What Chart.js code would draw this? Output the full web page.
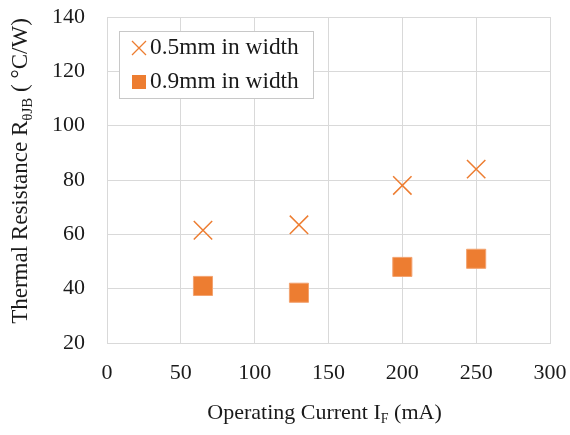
<!DOCTYPE html>
<html lang="en">
<head>
<meta charset="UTF-8" />
<title>Thermal resistance vs operating current</title>
<script src="https://cdn.jsdelivr.net/npm/chart.js@4.4.1/dist/chart.umd.min.js"></script>
<style>
  html, body { margin: 0; padding: 0; background: #fff; }
  #wrap { width: 570px; height: 435px; }
</style>
</head>
<body>
<div id="wrap"><canvas id="chart" width="570" height="435"></canvas></div>
<script>
// values
const currents = [65, 130, 200, 250]
const narrowValues = [61.5, 63.5, 78, 84]   // 0.5mm wide
const wideValues = [41, 38.5, 48, 51]       // 0.9mm wide
const seriesNames = ['0.5mm in width', '0.9mm in width']
const xRange = [0, 300]
const yRange = [20, 140]

const orange = '#ED7D31'
const serif = '"Liberation Serif", "Times New Roman", serif'
const gridMajor = '#d9d9d9'
const gridMinor = '#f0f0f0'

// draws text with subscript parts, centred on the origin
function richText(ctx, parts, size) {
  const subSize = Math.round(size * 0.65)
  let w = 0
  for (const p of parts) {
    ctx.font = `${p.sub ? subSize : size}px ${serif}`
    w += ctx.measureText(p.t).width
  }
  let x = -w / 2
  for (const p of parts) {
    ctx.font = `${p.sub ? subSize : size}px ${serif}`
    ctx.fillText(p.t, x, p.sub ? size * 0.3 : 0)
    x += ctx.measureText(p.t).width
  }
}

// scales add room for their end labels; the layout here is fixed instead
function noOverflow(s) {
  s.paddingTop = 0
  s.paddingBottom = 0
  s.paddingLeft = 0
  s.paddingRight = 0
}

const extras = {
  id: 'extras',
  afterDraw(chart) {
    const ctx = chart.ctx
    const area = chart.chartArea
    ctx.save()
    ctx.fillStyle = '#1a1a1a'
    ctx.textBaseline = 'middle'
    ctx.textAlign = 'left'

    // x axis title
    ctx.save()
    ctx.translate((area.left + area.right) / 2 - 4, 413)
    richText(ctx, [{ t: 'Operating Current I' }, { t: 'F', sub: true }, { t: ' (mA)' }], 22)
    ctx.restore()

    // y axis title
    ctx.save()
    ctx.translate(21, 171)
    ctx.rotate(-Math.PI / 2)
    richText(ctx, [{ t: 'Thermal Resistance R' }, { t: '\u03b8JB', sub: true }, { t: ' ( \u00b0C/W)' }], 23)
    ctx.restore()

    // legend box inside the plot
    ctx.fillStyle = '#fff'
    ctx.strokeStyle = '#c8c8c8'
    ctx.lineWidth = 1
    ctx.fillRect(119.5, 31.5, 194, 67)
    ctx.strokeRect(119.5, 31.5, 194, 67)

    ctx.strokeStyle = orange
    ctx.lineWidth = 1.3
    ctx.beginPath()
    ctx.moveTo(132, 41); ctx.lineTo(146, 55)
    ctx.moveTo(146, 41); ctx.lineTo(132, 55)
    ctx.stroke()
    ctx.fillStyle = orange
    ctx.fillRect(132, 75, 14, 14)

    ctx.fillStyle = '#1a1a1a'
    ctx.font = `23.4px ${serif}`
    ctx.fillText(seriesNames[0], 150, 48)
    ctx.fillText(seriesNames[1], 150, 82)
    ctx.restore()
  },
}

new Chart(document.getElementById('chart'), {
  type: 'scatter',
  data: {
    datasets: [
      {
        label: seriesNames[0],
        data: currents.map((x, i) => ({ x, y: narrowValues[i] })),
        pointStyle: 'crossRot',
        pointRadius: 13,
        pointBorderWidth: 1.5,
        borderColor: orange,
        backgroundColor: orange,
      },
      {
        label: seriesNames[1],
        data: currents.map((x, i) => ({ x, y: wideValues[i] })),
        pointStyle: 'rect',
        pointRadius: 13.5,
        pointBorderWidth: 1,
        borderColor: '#f3a370',
        backgroundColor: orange,
      },
    ],
  },
  options: {
    responsive: false,
    devicePixelRatio: 1,
    animation: false,
    layout: { autoPadding: false, padding: { top: 17, right: 20, left: 0, bottom: 0 } },
    plugins: { legend: { display: false }, tooltip: { enabled: false } },
    scales: {
      x: {
        type: 'linear',
        min: xRange[0],
        max: xRange[1],
        afterFit: (s) => { s.height = 92; noOverflow(s) },
        ticks: { stepSize: 50, padding: 17, color: '#1a1a1a', font: { family: serif, size: 22 } },
        grid: { color: gridMajor, drawTicks: false },
        border: { color: gridMajor },
      },
      y: {
        min: yRange[0],
        max: yRange[1],
        afterFit: (s) => { s.width = 107; noOverflow(s) },
        ticks: {
          stepSize: 10,
          padding: 22,
          color: '#1a1a1a',
          font: { family: serif, size: 22 },
          callback: (v) => (v % 20 === 0 ? v : ''),
        },
        grid: {
          color: (c) => (c.tick && c.tick.value % 20 === 0 ? gridMajor : gridMinor),
          drawTicks: false,
        },
        border: { color: gridMajor },
      },
    },
  },
  plugins: [extras],
})
</script>
</body>
</html>
